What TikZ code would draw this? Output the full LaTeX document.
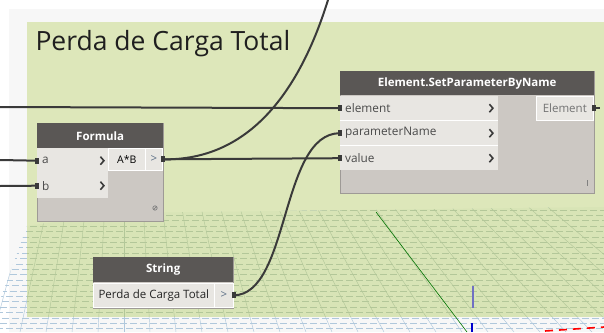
\documentclass[tikz,border=0pt]{standalone}
\usepackage{fontspec}
\setmainfont{Open Sans}
\definecolor{paper}{HTML}{F7F7F7}
\definecolor{grp}{HTML}{DDE7BA}
\definecolor{floorgrn}{HTML}{D8E4B6}
\definecolor{gridgrn}{HTML}{B3C799}
\definecolor{gridblu}{HTML}{B0C8DC}
\definecolor{headgray}{HTML}{5A5755}
\definecolor{bodygray}{HTML}{CCC8C3}
\definecolor{rowgray}{HTML}{E8E6E2}
\definecolor{edgegray}{HTML}{9E9A96}
\definecolor{wirecol}{HTML}{3A3A3A}
\definecolor{labcol}{HTML}{4A4A4A}
\definecolor{arrcol}{HTML}{5C6F86}

\newcommand\drawfloor[1]{%
  \foreach \r [evaluate=\r as \ph using {mod(\r,3)*4}] in {0,...,23}
    \draw[#1, line width=0.9pt, dash pattern=on 7pt off 3pt, dash phase=\ph pt] (0,210+\r*5.4) -- (604,210+\r*5.4);
  \foreach \k in {-14,...,22}
    \draw[#1, line width=0.45pt] (124,-150) -- (124+\k*26,332);
}

\begin{document}
\begin{tikzpicture}[x=1pt,y=-1pt,
  wire/.style={draw=wirecol, line width=2pt},
  bodybox/.style={draw=edgegray, fill=bodygray, line width=0.8pt, inner sep=0pt, anchor=north west},
  headbox/.style={fill=headgray, text=white, inner sep=0pt, anchor=north west, minimum height=24pt, font=\bfseries\fontsize{11.5}{13}\selectfont},
  inrow/.style={fill=rowgray, text=labcol, anchor=north west, minimum height=24pt, inner xsep=5pt, inner ysep=0pt, align=left, font=\fontsize{11.8}{13}\selectfont},
  outbox/.style={fill=rowgray, draw=white, line width=0.6pt, text=labcol, anchor=north west, inner sep=0pt, font=\fontsize{11.5}{13}\selectfont},
  chev/.style={draw=wirecol, line width=1.6pt},
  port/.style={fill=wirecol}]
\useasboundingbox (0,0) rectangle (604,332);
% background and group
\fill[white] (0,0) rectangle (604,332);
\fill[paper] (9,9) rectangle (604,332);
\fill[grp] (27,22) rectangle (604,316);
% floor grid
\begin{scope}
  \clip (0,300) -- (27,226) -- (120,213) -- (604,207) -- (604,332) -- (0,332) -- cycle;
  \drawfloor{gridblu}
  \begin{scope}
    \clip (27,22) rectangle (604,316);
    \fill[floorgrn] (0,0) rectangle (604,332);
    \drawfloor{gridgrn}
  \end{scope}
\end{scope}
\draw[green!45!black, line width=0.6pt] (376,212) -- (467,332);
\draw[blue!40!gray!80, line width=1.6pt] (473,286) -- (473,308);
\draw[blue!80!black, line width=1.2pt] (472,323) -- (472,332);
\draw[red, line width=1.6pt, dash pattern=on 8pt off 6pt] (545,331) -- (604,327);

\node[anchor=base west, text=black!88, font=\fontsize{26.5}{30}\selectfont] (title) at (32,50) {Perda de Carga Total};

% Element.SetParameterByName
\node[bodybox, minimum width=254pt, minimum height=122pt] (setBody) at (340,71) {};
\node[headbox, minimum width=254pt] (setHead) at (340,71) {Element.SetParameterByName};
\node[inrow, text width=148pt] (inElem) at (340,96) {element};
\node[inrow, text width=148pt] (inName) at (340,121) {parameterName};
\node[inrow, text width=148pt] (inValue) at (340,146) {value};
\node[outbox, minimum width=57pt, minimum height=24pt] (outElem) at (536,96) {\textcolor{black!55}{Element}};
\draw[white, line width=0.8pt] (inElem.south west) -- (inElem.south east) (inName.south west) -- (inName.south east);
\foreach \n in {inElem,inName,inValue}
  \draw[chev] (\n.east) ++(-9,-4) -- ++(3.5,4) -- ++(-3.5,4);
\draw[gray, line width=0.8pt] (587,180) -- (587,186);

% Formula
\node[bodybox, minimum width=126pt, minimum height=98pt] (fBody) at (37,123) {};
\node[headbox, minimum width=126pt, minimum height=25pt] (fHead) at (37,123) {Formula};
\node[inrow, text width=61pt, minimum height=25pt] (inA) at (37,148) {a};
\node[inrow, text width=61pt, minimum height=25pt] (inB) at (37,173) {b};
\node[outbox, minimum width=37pt, minimum height=22pt, font=\fontsize{10.5}{12}\selectfont] (fOut) at (108,148) {\textcolor{black}{A*B}};
\node[outbox, minimum width=17pt, minimum height=22pt, text=arrcol] (fArrow) at (145,148) {>};
\foreach \n in {inA,inB}
  \draw[chev] (\n.east) ++(-8,-4) -- ++(3.5,4) -- ++(-3.5,4);
\draw[gray, line width=0.7pt] (155,208) circle (2.2pt) (153.3,209.7) -- (156.7,206.3);

% String
\node[bodybox, minimum width=140pt, minimum height=51pt] (sBody) at (93,257) {};
\node[headbox, minimum width=140pt, minimum height=25pt] (sHead) at (93,257) {String};
\node[outbox, minimum width=121pt, minimum height=24pt, text=black!85] (sText) at (93,283) {Perda de Carga Total};
\node[outbox, minimum width=19pt, minimum height=24pt, text=arrcol] (sArrow) at (214,283) {>};

% wires
\coordinate (wElem) at (0,107);
\coordinate (wA) at (0,160);
\coordinate (wB) at (0,186);
\coordinate (wTop) at (328,0);
\draw[wire] (wElem) -- (inElem.west);
\draw[wire] (wA) -- (inA.west);
\draw[wire] (wB) -- (inB.west);
\draw[wire] (fArrow.east) -- (inValue.west);
\draw[wire] (fArrow.east) .. controls (250,161) and (300,90) .. (wTop);
\draw[wire] (sArrow.east) .. controls (290,295) and (280,133) .. (inName.west);
\draw[wire] (outElem.east) -- ++(6,0);
% ports
\foreach \n in {inElem,inName,inValue,inA,inB}
  \fill[port] (\n.west) ++(-2.5,-3) rectangle ++(4,6);
\foreach \n in {fArrow,sArrow,outElem}
  \fill[port] (\n.east) ++(-1.5,-3) rectangle ++(4,6);
\end{tikzpicture}
\end{document}
